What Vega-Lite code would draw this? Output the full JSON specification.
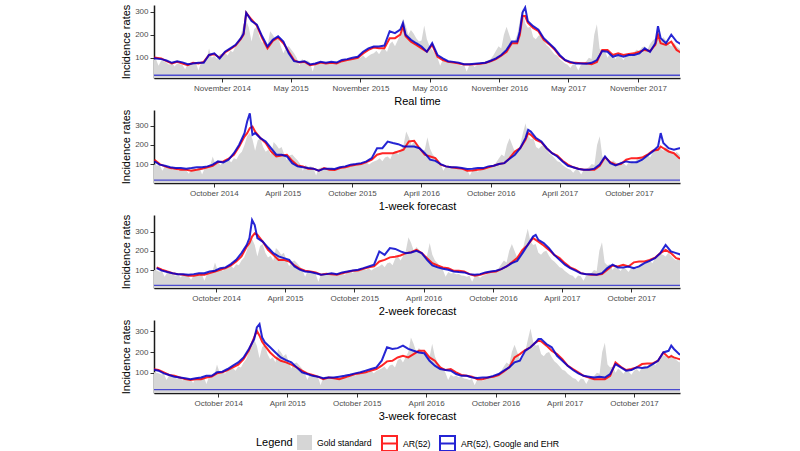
{
"$schema": "https://vega.github.io/schema/vega-lite/v6.json",
"padding": {"left": 120, "top": 4, "right": 10, "bottom": 5},
"config": {
  "font": "Liberation Sans",
  "view": {"stroke": null},
  "concat": {"spacing": 3},
  "axis": {"domainColor": "#1a1a1a", "domainWidth": 1.5, "tickColor": "#333333", "tickSize": 4, "tickWidth": 1, "labelColor": "#4d4d4d", "labelFontSize": 8, "labelPadding": 2, "titleColor": "black", "titleFontSize": 11, "titleFontWeight": "normal", "grid": false, "labelFont": "Liberation Sans", "titleFont": "Liberation Sans", "labelOverlap": false},
  "axisY": {"titlePadding": 3, "labelOverlap": false, "labelBound": false, "labelFlush": false},
  "axisX": {"titlePadding": 3}
},
"resolve": {"scale": {"x": "independent", "y": "independent", "fill": "shared", "stroke": "shared"}},
"datasets": {
"gold": [
{"d":"2014-04-13","v":105},{"d":"2014-04-20","v":100},{"d":"2014-04-27","v":98},{"d":"2014-05-04","v":92},{"d":"2014-05-11","v":95},{"d":"2014-05-18","v":65},{"d":"2014-05-25","v":88},{"d":"2014-06-01","v":85},{"d":"2014-06-08","v":78},{"d":"2014-06-15","v":70},{"d":"2014-06-22","v":80},{"d":"2014-06-29","v":62},{"d":"2014-07-06","v":75},{"d":"2014-07-13","v":72},{"d":"2014-07-20","v":68},{"d":"2014-07-27","v":50},{"d":"2014-08-03","v":75},{"d":"2014-08-10","v":78},{"d":"2014-08-17","v":70},{"d":"2014-08-24","v":82},{"d":"2014-08-31","v":45},{"d":"2014-09-07","v":80},{"d":"2014-09-14","v":85},{"d":"2014-09-21","v":90},{"d":"2014-09-28","v":140},{"d":"2014-10-05","v":100},{"d":"2014-10-12","v":108},{"d":"2014-10-19","v":95},{"d":"2014-10-26","v":115},{"d":"2014-11-02","v":118},{"d":"2014-11-09","v":122},{"d":"2014-11-16","v":110},{"d":"2014-11-23","v":130},{"d":"2014-11-30","v":125},{"d":"2014-12-07","v":150},{"d":"2014-12-14","v":165},{"d":"2014-12-21","v":200},{"d":"2014-12-28","v":245},
{"d":"2015-01-04","v":262},{"d":"2015-01-11","v":230},{"d":"2015-01-18","v":170},{"d":"2015-01-25","v":225},{"d":"2015-02-01","v":235},{"d":"2015-02-08","v":190},{"d":"2015-02-15","v":165},{"d":"2015-02-22","v":175},{"d":"2015-03-01","v":150},{"d":"2015-03-08","v":215},{"d":"2015-03-15","v":200},{"d":"2015-03-22","v":180},{"d":"2015-03-29","v":190},{"d":"2015-04-05","v":150},{"d":"2015-04-12","v":120},{"d":"2015-04-19","v":145},{"d":"2015-04-26","v":150},{"d":"2015-05-03","v":135},{"d":"2015-05-10","v":120},{"d":"2015-05-17","v":100},{"d":"2015-05-24","v":65},{"d":"2015-05-31","v":95},{"d":"2015-06-07","v":85},{"d":"2015-06-14","v":88},{"d":"2015-06-21","v":80},{"d":"2015-06-28","v":40},{"d":"2015-07-05","v":78},{"d":"2015-07-12","v":82},{"d":"2015-07-19","v":80},{"d":"2015-07-26","v":75},{"d":"2015-08-02","v":78},{"d":"2015-08-09","v":82},{"d":"2015-08-16","v":76},{"d":"2015-08-23","v":80},{"d":"2015-08-30","v":85},{"d":"2015-09-06","v":75},{"d":"2015-09-13","v":90},{"d":"2015-09-20","v":95},{"d":"2015-09-27","v":85},{"d":"2015-10-04","v":100},{"d":"2015-10-11","v":92},{"d":"2015-10-18","v":98},{"d":"2015-10-25","v":105},{"d":"2015-11-01","v":100},{"d":"2015-11-08","v":110},{"d":"2015-11-15","v":98},{"d":"2015-11-22","v":108},{"d":"2015-11-29","v":115},{"d":"2015-12-06","v":120},{"d":"2015-12-13","v":130},{"d":"2015-12-20","v":115},{"d":"2015-12-27","v":135},
{"d":"2016-01-03","v":140},{"d":"2016-01-10","v":125},{"d":"2016-01-17","v":160},{"d":"2016-01-24","v":170},{"d":"2016-01-31","v":150},{"d":"2016-02-07","v":175},{"d":"2016-02-14","v":200},{"d":"2016-02-21","v":270},{"d":"2016-02-28","v":240},{"d":"2016-03-06","v":200},{"d":"2016-03-13","v":220},{"d":"2016-03-20","v":205},{"d":"2016-03-27","v":185},{"d":"2016-04-03","v":170},{"d":"2016-04-10","v":175},{"d":"2016-04-17","v":240},{"d":"2016-04-24","v":180},{"d":"2016-05-01","v":150},{"d":"2016-05-08","v":135},{"d":"2016-05-15","v":120},{"d":"2016-05-22","v":100},{"d":"2016-05-29","v":65},{"d":"2016-06-05","v":90},{"d":"2016-06-12","v":82},{"d":"2016-06-19","v":85},{"d":"2016-06-26","v":78},{"d":"2016-07-03","v":80},{"d":"2016-07-10","v":72},{"d":"2016-07-17","v":70},{"d":"2016-07-24","v":65},{"d":"2016-07-31","v":70},{"d":"2016-08-07","v":40},{"d":"2016-08-14","v":68},{"d":"2016-08-21","v":72},{"d":"2016-08-28","v":60},{"d":"2016-09-04","v":70},{"d":"2016-09-11","v":75},{"d":"2016-09-18","v":82},{"d":"2016-09-25","v":85},{"d":"2016-10-02","v":88},{"d":"2016-10-09","v":95},{"d":"2016-10-16","v":110},{"d":"2016-10-23","v":130},{"d":"2016-10-30","v":150},{"d":"2016-11-06","v":140},{"d":"2016-11-13","v":200},{"d":"2016-11-20","v":235},{"d":"2016-11-27","v":200},{"d":"2016-12-04","v":165},{"d":"2016-12-11","v":170},{"d":"2016-12-18","v":200},{"d":"2016-12-25","v":260},
{"d":"2017-01-01","v":314},{"d":"2017-01-08","v":250},{"d":"2017-01-15","v":230},{"d":"2017-01-22","v":235},{"d":"2017-01-29","v":190},{"d":"2017-02-05","v":180},{"d":"2017-02-12","v":195},{"d":"2017-02-19","v":200},{"d":"2017-02-26","v":175},{"d":"2017-03-05","v":155},{"d":"2017-03-12","v":145},{"d":"2017-03-19","v":130},{"d":"2017-03-26","v":115},{"d":"2017-04-02","v":110},{"d":"2017-04-09","v":95},{"d":"2017-04-16","v":85},{"d":"2017-04-23","v":75},{"d":"2017-04-30","v":70},{"d":"2017-05-07","v":55},{"d":"2017-05-14","v":72},{"d":"2017-05-21","v":68},{"d":"2017-05-28","v":45},{"d":"2017-06-04","v":70},{"d":"2017-06-11","v":75},{"d":"2017-06-18","v":85},{"d":"2017-06-25","v":100},{"d":"2017-07-02","v":95},{"d":"2017-07-09","v":200},{"d":"2017-07-16","v":245},{"d":"2017-07-23","v":140},{"d":"2017-07-30","v":125},{"d":"2017-08-06","v":130},{"d":"2017-08-13","v":100},{"d":"2017-08-20","v":120},{"d":"2017-08-27","v":110},{"d":"2017-09-03","v":95},{"d":"2017-09-10","v":115},{"d":"2017-09-17","v":105},{"d":"2017-09-24","v":90},{"d":"2017-10-01","v":110},{"d":"2017-10-08","v":118},{"d":"2017-10-15","v":105},{"d":"2017-10-22","v":125},{"d":"2017-10-29","v":135},{"d":"2017-11-05","v":130},{"d":"2017-11-12","v":145},{"d":"2017-11-19","v":150},{"d":"2017-11-26","v":135},{"d":"2017-12-03","v":160},{"d":"2017-12-10","v":175},{"d":"2017-12-17","v":185},{"d":"2017-12-24","v":180},{"d":"2017-12-31","v":170},
{"d":"2018-01-07","v":190},{"d":"2018-01-14","v":175},{"d":"2018-01-21","v":160},{"d":"2018-01-28","v":150},{"d":"2018-02-04","v":165},{"d":"2018-02-11","v":150},{"d":"2018-02-18","v":140},{"d":"2018-02-25","v":135}
],
"p1": [
{"d":"2014-04-27","r":102,"b":100},{"d":"2014-05-11","r":100,"b":97},{"d":"2014-05-25","r":97,"b":94},{"d":"2014-06-08","r":85,"b":88},{"d":"2014-06-22","r":75,"b":78},{"d":"2014-07-06","r":82,"b":85},{"d":"2014-07-20","r":75,"b":80},{"d":"2014-08-03","r":68,"b":72},{"d":"2014-08-17","r":78,"b":75},{"d":"2014-08-31","r":75,"b":78},{"d":"2014-09-14","r":82,"b":78},{"d":"2014-09-28","r":112,"b":112},{"d":"2014-10-12","r":115,"b":119},{"d":"2014-10-26","r":100,"b":97},{"d":"2014-11-09","r":123,"b":126},{"d":"2014-11-23","r":137,"b":141},{"d":"2014-12-07","r":153,"b":156},{"d":"2014-12-21","r":182,"b":185},{"d":"2014-12-28","r":200,"b":205},{"d":"2015-01-04","r":295,"b":295},{"d":"2015-01-18","r":266,"b":259},{"d":"2015-02-01","r":240,"b":244},{"d":"2015-02-15","r":185,"b":193},{"d":"2015-03-01","r":141,"b":149},{"d":"2015-03-15","r":173,"b":178},{"d":"2015-03-29","r":188,"b":193},{"d":"2015-04-12","r":163,"b":170},{"d":"2015-04-26","r":126,"b":119},{"d":"2015-05-10","r":90,"b":85},{"d":"2015-05-24","r":79,"b":82},{"d":"2015-06-07","r":82,"b":85},{"d":"2015-06-21","r":68,"b":71},{"d":"2015-07-05","r":72,"b":75},{"d":"2015-07-19","r":79,"b":82},{"d":"2015-08-02","r":75,"b":78},{"d":"2015-08-16","r":78,"b":82},{"d":"2015-08-30","r":75,"b":79},{"d":"2015-09-13","r":85,"b":90},{"d":"2015-09-27","r":90,"b":94},{"d":"2015-10-11","r":94,"b":100},{"d":"2015-10-25","r":100,"b":104},{"d":"2015-11-08","r":119,"b":126},{"d":"2015-11-22","r":134,"b":141},{"d":"2015-12-06","r":144,"b":149},{"d":"2015-12-20","r":141,"b":149},{"d":"2016-01-03","r":141,"b":153},{"d":"2016-01-17","r":185,"b":215},{"d":"2016-01-31","r":185,"b":207},{"d":"2016-02-14","r":200,"b":222},{"d":"2016-02-21","r":237,"b":251},{"d":"2016-02-28","r":193,"b":200},{"d":"2016-03-13","r":170,"b":178},{"d":"2016-03-27","r":156,"b":163},{"d":"2016-04-10","r":141,"b":149},{"d":"2016-04-24","r":126,"b":126},{"d":"2016-05-08","r":156,"b":163},{"d":"2016-05-22","r":104,"b":112},{"d":"2016-06-05","r":90,"b":97},{"d":"2016-06-19","r":82,"b":85},{"d":"2016-07-03","r":79,"b":82},{"d":"2016-07-17","r":75,"b":78},{"d":"2016-07-31","r":71,"b":72},{"d":"2016-08-14","r":71,"b":72},{"d":"2016-08-28","r":72,"b":74},{"d":"2016-09-11","r":74,"b":76},{"d":"2016-09-25","r":77,"b":78},{"d":"2016-10-09","r":85,"b":87},{"d":"2016-10-23","r":94,"b":97},{"d":"2016-11-06","r":109,"b":112},{"d":"2016-11-20","r":126,"b":134},{"d":"2016-12-04","r":163,"b":170},{"d":"2016-12-18","r":163,"b":170},{"d":"2016-12-25","r":200,"b":215},{"d":"2017-01-01","r":281,"b":296},{"d":"2017-01-08","r":281,"b":318},{"d":"2017-01-15","r":252,"b":259},{"d":"2017-01-29","r":229,"b":237},{"d":"2017-02-12","r":215,"b":222},{"d":"2017-02-26","r":178,"b":185},{"d":"2017-03-12","r":159,"b":163},{"d":"2017-03-26","r":137,"b":141},{"d":"2017-04-09","r":107,"b":112},{"d":"2017-04-23","r":90,"b":90},{"d":"2017-05-07","r":78,"b":82},{"d":"2017-05-21","r":78,"b":75},{"d":"2017-06-04","r":76,"b":75},{"d":"2017-06-18","r":76,"b":74},{"d":"2017-07-02","r":72,"b":78},{"d":"2017-07-16","r":82,"b":90},{"d":"2017-07-30","r":134,"b":129},{"d":"2017-08-13","r":134,"b":126},{"d":"2017-08-27","r":112,"b":104},{"d":"2017-09-10","r":119,"b":112},{"d":"2017-09-24","r":112,"b":104},{"d":"2017-10-08","r":116,"b":112},{"d":"2017-10-22","r":119,"b":112},{"d":"2017-11-05","r":126,"b":119},{"d":"2017-11-19","r":134,"b":141},{"d":"2017-12-03","r":129,"b":126},{"d":"2017-12-17","r":156,"b":163},{"d":"2017-12-24","r":200,"b":237},{"d":"2017-12-31","r":163,"b":185},{"d":"2018-01-14","r":156,"b":163},{"d":"2018-01-28","r":170,"b":200},{"d":"2018-02-11","r":134,"b":170},{"d":"2018-02-25","r":119,"b":156}
],
"p2": [
{"d":"2014-04-27","r":123,"b":114},{"d":"2014-05-11","r":100,"b":97},{"d":"2014-05-25","r":88,"b":91},{"d":"2014-06-08","r":79,"b":83},{"d":"2014-06-22","r":76,"b":79},{"d":"2014-07-06","r":70,"b":79},{"d":"2014-07-20","r":70,"b":76},{"d":"2014-08-03","r":65,"b":79},{"d":"2014-08-17","r":70,"b":83},{"d":"2014-08-31","r":76,"b":83},{"d":"2014-09-14","r":83,"b":88},{"d":"2014-09-28","r":91,"b":97},{"d":"2014-10-12","r":110,"b":114},{"d":"2014-10-26","r":114,"b":109},{"d":"2014-11-09","r":128,"b":123},{"d":"2014-11-23","r":149,"b":157},{"d":"2014-12-07","r":192,"b":201},{"d":"2014-12-21","r":244,"b":262},{"d":"2014-12-28","r":262,"b":323},{"d":"2015-01-04","r":288,"b":366},{"d":"2015-01-11","r":296,"b":253},{"d":"2015-01-18","r":270,"b":262},{"d":"2015-02-01","r":236,"b":236},{"d":"2015-02-15","r":210,"b":218},{"d":"2015-03-01","r":166,"b":183},{"d":"2015-03-15","r":140,"b":149},{"d":"2015-03-29","r":145,"b":149},{"d":"2015-04-12","r":149,"b":140},{"d":"2015-04-26","r":117,"b":105},{"d":"2015-05-10","r":93,"b":88},{"d":"2015-05-24","r":88,"b":83},{"d":"2015-06-07","r":76,"b":79},{"d":"2015-06-21","r":76,"b":76},{"d":"2015-07-05","r":65,"b":65},{"d":"2015-07-19","r":79,"b":76},{"d":"2015-08-02","r":70,"b":76},{"d":"2015-08-16","r":69,"b":74},{"d":"2015-08-30","r":79,"b":83},{"d":"2015-09-13","r":83,"b":88},{"d":"2015-09-27","r":91,"b":97},{"d":"2015-10-11","r":97,"b":100},{"d":"2015-10-25","r":100,"b":105},{"d":"2015-11-08","r":110,"b":114},{"d":"2015-11-22","r":123,"b":131},{"d":"2015-12-06","r":149,"b":183},{"d":"2015-12-20","r":157,"b":183},{"d":"2016-01-03","r":157,"b":218},{"d":"2016-01-17","r":157,"b":210},{"d":"2016-01-31","r":166,"b":204},{"d":"2016-02-14","r":175,"b":192},{"d":"2016-02-28","r":218,"b":192},{"d":"2016-03-13","r":222,"b":192},{"d":"2016-03-27","r":183,"b":183},{"d":"2016-04-10","r":149,"b":157},{"d":"2016-04-24","r":140,"b":123},{"d":"2016-05-08","r":131,"b":117},{"d":"2016-05-22","r":97,"b":100},{"d":"2016-06-05","r":88,"b":88},{"d":"2016-06-19","r":83,"b":83},{"d":"2016-07-03","r":79,"b":83},{"d":"2016-07-17","r":76,"b":79},{"d":"2016-07-31","r":65,"b":74},{"d":"2016-08-14","r":67,"b":76},{"d":"2016-08-28","r":70,"b":79},{"d":"2016-09-11","r":74,"b":79},{"d":"2016-09-25","r":83,"b":88},{"d":"2016-10-09","r":91,"b":91},{"d":"2016-10-23","r":100,"b":100},{"d":"2016-11-06","r":105,"b":105},{"d":"2016-11-20","r":131,"b":128},{"d":"2016-12-04","r":166,"b":149},{"d":"2016-12-18","r":183,"b":183},{"d":"2017-01-01","r":227,"b":236},{"d":"2017-01-08","r":262,"b":279},{"d":"2017-01-15","r":253,"b":270},{"d":"2017-01-29","r":227,"b":236},{"d":"2017-02-12","r":214,"b":218},{"d":"2017-02-26","r":183,"b":183},{"d":"2017-03-12","r":157,"b":157},{"d":"2017-03-26","r":144,"b":140},{"d":"2017-04-09","r":117,"b":114},{"d":"2017-04-23","r":97,"b":91},{"d":"2017-05-07","r":83,"b":83},{"d":"2017-05-21","r":76,"b":74},{"d":"2017-06-04","r":70,"b":70},{"d":"2017-06-18","r":70,"b":70},{"d":"2017-07-02","r":70,"b":76},{"d":"2017-07-16","r":91,"b":97},{"d":"2017-07-30","r":136,"b":140},{"d":"2017-08-13","r":110,"b":105},{"d":"2017-08-27","r":97,"b":93},{"d":"2017-09-10","r":100,"b":105},{"d":"2017-09-24","r":123,"b":114},{"d":"2017-10-08","r":131,"b":109},{"d":"2017-10-22","r":131,"b":110},{"d":"2017-11-05","r":134,"b":123},{"d":"2017-11-19","r":149,"b":145},{"d":"2017-12-03","r":170,"b":166},{"d":"2017-12-17","r":175,"b":192},{"d":"2017-12-24","r":192,"b":262},{"d":"2017-12-31","r":183,"b":210},{"d":"2018-01-14","r":166,"b":183},{"d":"2018-01-28","r":157,"b":175},{"d":"2018-02-11","r":131,"b":183},{"d":"2018-02-25","r":125,"b":180}
],
"p3": [
{"d":"2014-04-27","r":114,"b":110},{"d":"2014-05-11","r":102,"b":97},{"d":"2014-05-25","r":93,"b":90},{"d":"2014-06-08","r":84,"b":84},{"d":"2014-06-22","r":79,"b":79},{"d":"2014-07-06","r":76,"b":79},{"d":"2014-07-20","r":71,"b":76},{"d":"2014-08-03","r":71,"b":79},{"d":"2014-08-17","r":76,"b":84},{"d":"2014-08-31","r":76,"b":84},{"d":"2014-09-14","r":84,"b":93},{"d":"2014-09-28","r":93,"b":97},{"d":"2014-10-12","r":102,"b":110},{"d":"2014-10-26","r":110,"b":114},{"d":"2014-11-09","r":124,"b":131},{"d":"2014-11-23","r":145,"b":153},{"d":"2014-12-07","r":171,"b":188},{"d":"2014-12-21","r":222,"b":231},{"d":"2014-12-28","r":240,"b":266},{"d":"2015-01-04","r":274,"b":360},{"d":"2015-01-11","r":291,"b":334},{"d":"2015-01-18","r":283,"b":266},{"d":"2015-02-01","r":248,"b":248},{"d":"2015-02-15","r":205,"b":217},{"d":"2015-03-01","r":179,"b":188},{"d":"2015-03-15","r":153,"b":171},{"d":"2015-03-29","r":153,"b":162},{"d":"2015-04-12","r":145,"b":153},{"d":"2015-04-26","r":124,"b":119},{"d":"2015-05-10","r":107,"b":102},{"d":"2015-05-24","r":97,"b":93},{"d":"2015-06-07","r":93,"b":90},{"d":"2015-06-21","r":88,"b":84},{"d":"2015-07-05","r":76,"b":76},{"d":"2015-07-19","r":81,"b":79},{"d":"2015-08-02","r":79,"b":84},{"d":"2015-08-16","r":76,"b":79},{"d":"2015-08-30","r":84,"b":88},{"d":"2015-09-13","r":90,"b":93},{"d":"2015-09-27","r":97,"b":98},{"d":"2015-10-11","r":98,"b":102},{"d":"2015-10-25","r":107,"b":110},{"d":"2015-11-08","r":114,"b":119},{"d":"2015-11-22","r":119,"b":128},{"d":"2015-12-06","r":145,"b":197},{"d":"2015-12-20","r":153,"b":179},{"d":"2016-01-03","r":166,"b":214},{"d":"2016-01-17","r":169,"b":210},{"d":"2016-01-31","r":176,"b":197},{"d":"2016-02-14","r":188,"b":188},{"d":"2016-02-28","r":193,"b":191},{"d":"2016-03-13","r":205,"b":200},{"d":"2016-03-27","r":188,"b":188},{"d":"2016-04-10","r":162,"b":153},{"d":"2016-04-24","r":136,"b":124},{"d":"2016-05-08","r":124,"b":114},{"d":"2016-05-22","r":114,"b":107},{"d":"2016-06-05","r":110,"b":102},{"d":"2016-06-19","r":97,"b":93},{"d":"2016-07-03","r":97,"b":90},{"d":"2016-07-17","r":93,"b":88},{"d":"2016-07-31","r":79,"b":79},{"d":"2016-08-14","r":71,"b":76},{"d":"2016-08-28","r":76,"b":79},{"d":"2016-09-11","r":84,"b":88},{"d":"2016-09-25","r":90,"b":93},{"d":"2016-10-09","r":93,"b":97},{"d":"2016-10-23","r":105,"b":105},{"d":"2016-11-06","r":119,"b":119},{"d":"2016-11-20","r":140,"b":136},{"d":"2016-12-04","r":162,"b":148},{"d":"2016-12-18","r":205,"b":188},{"d":"2017-01-01","r":231,"b":231},{"d":"2017-01-15","r":266,"b":274},{"d":"2017-01-22","r":257,"b":283},{"d":"2017-01-29","r":248,"b":257},{"d":"2017-02-12","r":228,"b":240},{"d":"2017-02-26","r":205,"b":214},{"d":"2017-03-12","r":179,"b":179},{"d":"2017-03-26","r":162,"b":153},{"d":"2017-04-09","r":136,"b":128},{"d":"2017-04-23","r":114,"b":110},{"d":"2017-05-07","r":102,"b":97},{"d":"2017-05-21","r":84,"b":84},{"d":"2017-06-04","r":79,"b":79},{"d":"2017-06-18","r":76,"b":79},{"d":"2017-07-02","r":76,"b":76},{"d":"2017-07-16","r":79,"b":84},{"d":"2017-07-30","r":102,"b":110},{"d":"2017-08-13","r":124,"b":128},{"d":"2017-08-27","r":119,"b":114},{"d":"2017-09-10","r":128,"b":114},{"d":"2017-09-24","r":119,"b":119},{"d":"2017-10-08","r":140,"b":110},{"d":"2017-10-22","r":145,"b":119},{"d":"2017-11-05","r":145,"b":136},{"d":"2017-11-19","r":153,"b":148},{"d":"2017-12-03","r":164,"b":162},{"d":"2017-12-17","r":188,"b":188},{"d":"2017-12-31","r":205,"b":231},{"d":"2018-01-14","r":188,"b":197},{"d":"2018-01-28","r":162,"b":188},{"d":"2018-02-11","r":155,"b":179},{"d":"2018-02-25","r":150,"b":175}
],
"p4": [
{"d":"2014-04-13","r":118,"b":115},{"d":"2014-04-27","r":113,"b":110},{"d":"2014-05-11","r":102,"b":97},{"d":"2014-05-25","r":89,"b":89},{"d":"2014-06-08","r":85,"b":81},{"d":"2014-06-22","r":77,"b":77},{"d":"2014-07-06","r":69,"b":73},{"d":"2014-07-20","r":65,"b":69},{"d":"2014-08-03","r":69,"b":73},{"d":"2014-08-17","r":69,"b":77},{"d":"2014-08-31","r":77,"b":85},{"d":"2014-09-14","r":81,"b":85},{"d":"2014-09-28","r":97,"b":102},{"d":"2014-10-12","r":102,"b":105},{"d":"2014-10-26","r":113,"b":118},{"d":"2014-11-09","r":126,"b":134},{"d":"2014-11-23","r":139,"b":150},{"d":"2014-12-07","r":166,"b":174},{"d":"2014-12-21","r":207,"b":215},{"d":"2015-01-04","r":271,"b":263},{"d":"2015-01-11","r":303,"b":319},{"d":"2015-01-18","r":279,"b":335},{"d":"2015-01-25","r":250,"b":271},{"d":"2015-02-01","r":231,"b":247},{"d":"2015-02-15","r":198,"b":223},{"d":"2015-03-01","r":174,"b":198},{"d":"2015-03-15","r":158,"b":174},{"d":"2015-03-29","r":150,"b":161},{"d":"2015-04-12","r":139,"b":150},{"d":"2015-04-26","r":126,"b":126},{"d":"2015-05-10","r":110,"b":102},{"d":"2015-05-24","r":97,"b":94},{"d":"2015-06-07","r":89,"b":85},{"d":"2015-06-21","r":81,"b":81},{"d":"2015-07-05","r":69,"b":73},{"d":"2015-07-19","r":77,"b":77},{"d":"2015-08-02","r":73,"b":77},{"d":"2015-08-16","r":69,"b":81},{"d":"2015-08-30","r":77,"b":85},{"d":"2015-09-13","r":85,"b":90},{"d":"2015-09-27","r":94,"b":97},{"d":"2015-10-11","r":97,"b":102},{"d":"2015-10-25","r":102,"b":110},{"d":"2015-11-08","r":110,"b":118},{"d":"2015-11-22","r":118,"b":126},{"d":"2015-12-06","r":134,"b":158},{"d":"2015-12-20","r":155,"b":223},{"d":"2016-01-03","r":158,"b":215},{"d":"2016-01-17","r":174,"b":219},{"d":"2016-01-31","r":182,"b":231},{"d":"2016-02-14","r":174,"b":215},{"d":"2016-02-28","r":190,"b":206},{"d":"2016-03-13","r":206,"b":198},{"d":"2016-03-27","r":206,"b":194},{"d":"2016-04-10","r":174,"b":158},{"d":"2016-04-24","r":158,"b":134},{"d":"2016-05-08","r":126,"b":118},{"d":"2016-05-22","r":113,"b":113},{"d":"2016-06-05","r":118,"b":110},{"d":"2016-06-19","r":102,"b":94},{"d":"2016-07-03","r":89,"b":85},{"d":"2016-07-17","r":85,"b":85},{"d":"2016-07-31","r":81,"b":77},{"d":"2016-08-14","r":69,"b":74},{"d":"2016-08-28","r":69,"b":77},{"d":"2016-09-11","r":77,"b":77},{"d":"2016-09-25","r":81,"b":85},{"d":"2016-10-09","r":89,"b":94},{"d":"2016-10-23","r":106,"b":110},{"d":"2016-11-06","r":126,"b":126},{"d":"2016-11-20","r":174,"b":150},{"d":"2016-12-04","r":190,"b":158},{"d":"2016-12-18","r":210,"b":206},{"d":"2017-01-01","r":223,"b":223},{"d":"2017-01-15","r":247,"b":247},{"d":"2017-01-22","r":255,"b":263},{"d":"2017-01-29","r":252,"b":263},{"d":"2017-02-12","r":231,"b":239},{"d":"2017-02-26","r":206,"b":223},{"d":"2017-03-12","r":190,"b":182},{"d":"2017-03-26","r":166,"b":158},{"d":"2017-04-09","r":134,"b":134},{"d":"2017-04-23","r":118,"b":113},{"d":"2017-05-07","r":102,"b":97},{"d":"2017-05-21","r":85,"b":85},{"d":"2017-06-04","r":77,"b":81},{"d":"2017-06-18","r":69,"b":77},{"d":"2017-07-02","r":69,"b":81},{"d":"2017-07-16","r":69,"b":77},{"d":"2017-07-30","r":85,"b":94},{"d":"2017-08-13","r":150,"b":142},{"d":"2017-08-27","r":129,"b":126},{"d":"2017-09-10","r":113,"b":110},{"d":"2017-09-24","r":118,"b":113},{"d":"2017-10-08","r":126,"b":126},{"d":"2017-10-22","r":142,"b":123},{"d":"2017-11-05","r":145,"b":126},{"d":"2017-11-19","r":145,"b":142},{"d":"2017-12-03","r":158,"b":158},{"d":"2017-12-17","r":198,"b":198},{"d":"2017-12-31","r":174,"b":206},{"d":"2018-01-07","r":180,"b":231},{"d":"2018-01-14","r":174,"b":215},{"d":"2018-01-28","r":166,"b":190},{"d":"2018-02-11","r":160,"b":180}
]
},
"vconcat": [
{
"width": 526, "height": 73,
"layer": [
{"data": {"name": "gold"}, "mark": {"type": "area", "clip": true, "opacity": 1},
 "encoding": {
  "x": {"field": "d", "type": "temporal", "title": "Real time", "scale": {"domain": [{"year":2014,"month":5,"date":6},{"year":2018,"month":2,"date":20}]}, "axis": {"format": "%B %Y", "values": [{"year":2014,"month":11,"date":1},{"year":2015,"month":5,"date":1},{"year":2015,"month":11,"date":1},{"year":2016,"month":5,"date":1},{"year":2016,"month":11,"date":1},{"year":2017,"month":5,"date":1},{"year":2017,"month":11,"date":1}]}},
  "y": {"field": "v", "type": "quantitative", "title": "Incidence rates", "scale": {"domain": [12, 329], "nice": false, "zero": false}, "axis": {"tickCount": 3, "format": "d", "labelOverlap": false, "labelBound": false, "labelFlush": false}},
  "fill": {"datum": "Gold standard", "type": "nominal", "scale": {"domain": ["Gold standard"], "range": ["#d6d6d6"]},
   "legend": {"title": "Legend", "orient": "none", "legendX": 102, "legendY": 430, "direction": "horizontal", "titleOrient": "left", "titleFontSize": 11, "titleFontWeight": "normal", "titleColor": "black", "titleBaseline": "middle", "titlePadding": 4, "labelFontSize": 8.7, "labelColor": "black", "labelOffset": 5, "symbolType": "square", "symbolSize": 225, "symbolStrokeWidth": 0, "symbolOpacity": 1}}
 }},
{"data": {"values": [{"m": 24}]}, "mark": {"type": "rule", "color": "#4b4bd0", "strokeWidth": 1.3},
 "encoding": {"y": {"field": "m", "type": "quantitative", "title": "Incidence rates", "scale": {"domain": [12, 329], "nice": false, "zero": false}, "axis": {"tickCount": 3, "format": "d", "labelOverlap": false, "labelBound": false, "labelFlush": false}}}},
{"data": {"name": "p1"}, "mark": {"type": "line", "clip": true, "strokeWidth": 2, "opacity": 0.85},
 "encoding": {
  "x": {"field": "d", "type": "temporal", "title": "Real time", "scale": {"domain": [{"year":2014,"month":5,"date":6},{"year":2018,"month":2,"date":20}]}},
  "y": {"field": "r", "type": "quantitative", "title": "Incidence rates", "scale": {"domain": [12, 329], "nice": false, "zero": false}, "axis": {"tickCount": 3, "format": "d", "labelOverlap": false, "labelBound": false, "labelFlush": false}},
  "stroke": {"datum": "AR(52)", "type": "nominal", "scale": {"domain": ["AR(52)", "AR(52), Google and EHR"], "range": ["#ff0000", "#0000cd"]},
   "legend": {"title": null, "orient": "none", "legendX": 227, "legendY": 430, "direction": "horizontal", "labelFontSize": 8.7, "labelColor": "black", "labelOffset": 5, "columnPadding": 5, "symbolType": "M-1,-1H1V1H-1V-1ZM-1,0H1", "symbolSize": 225, "symbolStrokeWidth": 2, "symbolOpacity": 1, "symbolFillColor": "transparent"}}}},
{"data": {"name": "p1"}, "mark": {"type": "line", "clip": true, "strokeWidth": 2, "opacity": 0.85},
 "encoding": {
  "x": {"field": "d", "type": "temporal", "title": "Real time", "scale": {"domain": [{"year":2014,"month":5,"date":6},{"year":2018,"month":2,"date":20}]}},
  "y": {"field": "b", "type": "quantitative", "title": "Incidence rates", "scale": {"domain": [12, 329], "nice": false, "zero": false}, "axis": {"tickCount": 3, "format": "d", "labelOverlap": false, "labelBound": false, "labelFlush": false}},
  "stroke": {"datum": "AR(52), Google and EHR", "type": "nominal"}}}
]
},
{
"width": 526, "height": 73,
"layer": [
{"data": {"name": "gold"}, "mark": {"type": "area", "clip": true, "opacity": 1},
 "encoding": {
  "x": {"field": "d", "type": "temporal", "title": "1-week forecast", "scale": {"domain": [{"year":2014,"month":4,"date":26},{"year":2018,"month":2,"date":13}]}, "axis": {"format": "%B %Y", "values": [{"year":2014,"month":10,"date":1},{"year":2015,"month":4,"date":1},{"year":2015,"month":10,"date":1},{"year":2016,"month":4,"date":1},{"year":2016,"month":10,"date":1},{"year":2017,"month":4,"date":1},{"year":2017,"month":10,"date":1}]}},
  "y": {"field": "v", "type": "quantitative", "title": "Incidence rates", "scale": {"domain": [1, 383], "nice": false, "zero": false}, "axis": {"values": [100, 200, 300], "labelOverlap": false}},
  "fill": {"datum": "Gold standard", "type": "nominal"}}},
{"data": {"values": [{"m": 16.5}]}, "mark": {"type": "rule", "color": "#4b4bd0", "strokeWidth": 1.3},
 "encoding": {"y": {"field": "m", "type": "quantitative", "title": "Incidence rates", "scale": {"domain": [1, 383], "nice": false, "zero": false}, "axis": {"values": [100, 200, 300], "labelOverlap": false}}}},
{"data": {"name": "p2"}, "mark": {"type": "line", "clip": true, "strokeWidth": 2, "opacity": 0.85},
 "encoding": {
  "x": {"field": "d", "type": "temporal", "title": "1-week forecast", "scale": {"domain": [{"year":2014,"month":4,"date":26},{"year":2018,"month":2,"date":13}]}},
  "y": {"field": "r", "type": "quantitative", "title": "Incidence rates", "scale": {"domain": [1, 383], "nice": false, "zero": false}, "axis": {"values": [100, 200, 300], "labelOverlap": false}},
  "stroke": {"datum": "AR(52)", "type": "nominal"}}},
{"data": {"name": "p2"}, "mark": {"type": "line", "clip": true, "strokeWidth": 2, "opacity": 0.85},
 "encoding": {
  "x": {"field": "d", "type": "temporal", "title": "1-week forecast", "scale": {"domain": [{"year":2014,"month":4,"date":26},{"year":2018,"month":2,"date":13}]}},
  "y": {"field": "b", "type": "quantitative", "title": "Incidence rates", "scale": {"domain": [1, 383], "nice": false, "zero": false}, "axis": {"values": [100, 200, 300], "labelOverlap": false}},
  "stroke": {"datum": "AR(52), Google and EHR", "type": "nominal"}}}
]
},
{
"width": 526, "height": 73,
"layer": [
{"data": {"name": "gold"}, "mark": {"type": "area", "clip": true, "opacity": 1},
 "encoding": {
  "x": {"field": "d", "type": "temporal", "title": "2-week forecast", "scale": {"domain": [{"year":2014,"month":4,"date":20},{"year":2018,"month":2,"date":7}]}, "axis": {"format": "%B %Y", "values": [{"year":2014,"month":10,"date":1},{"year":2015,"month":4,"date":1},{"year":2015,"month":10,"date":1},{"year":2016,"month":4,"date":1},{"year":2016,"month":10,"date":1},{"year":2017,"month":4,"date":1},{"year":2017,"month":10,"date":1}]}},
  "y": {"field": "v", "type": "quantitative", "title": "Incidence rates", "scale": {"domain": [7, 386], "nice": false, "zero": false}, "axis": {"values": [100, 200, 300], "labelOverlap": false}},
  "fill": {"datum": "Gold standard", "type": "nominal"}}},
{"data": {"values": [{"m": 21}]}, "mark": {"type": "rule", "color": "#4b4bd0", "strokeWidth": 1.3},
 "encoding": {"y": {"field": "m", "type": "quantitative", "title": "Incidence rates", "scale": {"domain": [7, 386], "nice": false, "zero": false}, "axis": {"values": [100, 200, 300], "labelOverlap": false}}}},
{"data": {"name": "p3"}, "mark": {"type": "line", "clip": true, "strokeWidth": 2, "opacity": 0.85},
 "encoding": {
  "x": {"field": "d", "type": "temporal", "title": "2-week forecast", "scale": {"domain": [{"year":2014,"month":4,"date":20},{"year":2018,"month":2,"date":7}]}},
  "y": {"field": "r", "type": "quantitative", "title": "Incidence rates", "scale": {"domain": [7, 386], "nice": false, "zero": false}, "axis": {"values": [100, 200, 300], "labelOverlap": false}},
  "stroke": {"datum": "AR(52)", "type": "nominal"}}},
{"data": {"name": "p3"}, "mark": {"type": "line", "clip": true, "strokeWidth": 2, "opacity": 0.85},
 "encoding": {
  "x": {"field": "d", "type": "temporal", "title": "2-week forecast", "scale": {"domain": [{"year":2014,"month":4,"date":20},{"year":2018,"month":2,"date":7}]}},
  "y": {"field": "b", "type": "quantitative", "title": "Incidence rates", "scale": {"domain": [7, 386], "nice": false, "zero": false}, "axis": {"values": [100, 200, 300], "labelOverlap": false}},
  "stroke": {"datum": "AR(52), Google and EHR", "type": "nominal"}}}
]
},
{
"width": 526, "height": 73,
"layer": [
{"data": {"name": "gold"}, "mark": {"type": "area", "clip": true, "opacity": 1},
 "encoding": {
  "x": {"field": "d", "type": "temporal", "title": "3-week forecast", "scale": {"domain": [{"year":2014,"month":4,"date":15},{"year":2018,"month":1,"date":30}]}, "axis": {"format": "%B %Y", "values": [{"year":2014,"month":10,"date":1},{"year":2015,"month":4,"date":1},{"year":2015,"month":10,"date":1},{"year":2016,"month":4,"date":1},{"year":2016,"month":10,"date":1},{"year":2017,"month":4,"date":1},{"year":2017,"month":10,"date":1}]}},
  "y": {"field": "v", "type": "quantitative", "title": "Incidence rates", "scale": {"domain": [2, 355], "nice": false, "zero": false}, "axis": {"values": [100, 200, 300], "labelOverlap": false}},
  "fill": {"datum": "Gold standard", "type": "nominal"}}},
{"data": {"values": [{"m": 18}]}, "mark": {"type": "rule", "color": "#4b4bd0", "strokeWidth": 1.3},
 "encoding": {"y": {"field": "m", "type": "quantitative", "title": "Incidence rates", "scale": {"domain": [2, 355], "nice": false, "zero": false}, "axis": {"values": [100, 200, 300], "labelOverlap": false}}}},
{"data": {"name": "p4"}, "mark": {"type": "line", "clip": true, "strokeWidth": 2, "opacity": 0.85},
 "encoding": {
  "x": {"field": "d", "type": "temporal", "title": "3-week forecast", "scale": {"domain": [{"year":2014,"month":4,"date":15},{"year":2018,"month":1,"date":30}]}},
  "y": {"field": "r", "type": "quantitative", "title": "Incidence rates", "scale": {"domain": [2, 355], "nice": false, "zero": false}, "axis": {"values": [100, 200, 300], "labelOverlap": false}},
  "stroke": {"datum": "AR(52)", "type": "nominal"}}},
{"data": {"name": "p4"}, "mark": {"type": "line", "clip": true, "strokeWidth": 2, "opacity": 0.85},
 "encoding": {
  "x": {"field": "d", "type": "temporal", "title": "3-week forecast", "scale": {"domain": [{"year":2014,"month":4,"date":15},{"year":2018,"month":1,"date":30}]}},
  "y": {"field": "b", "type": "quantitative", "title": "Incidence rates", "scale": {"domain": [2, 355], "nice": false, "zero": false}, "axis": {"values": [100, 200, 300], "labelOverlap": false}},
  "stroke": {"datum": "AR(52), Google and EHR", "type": "nominal"}}}
]
}
]
}
